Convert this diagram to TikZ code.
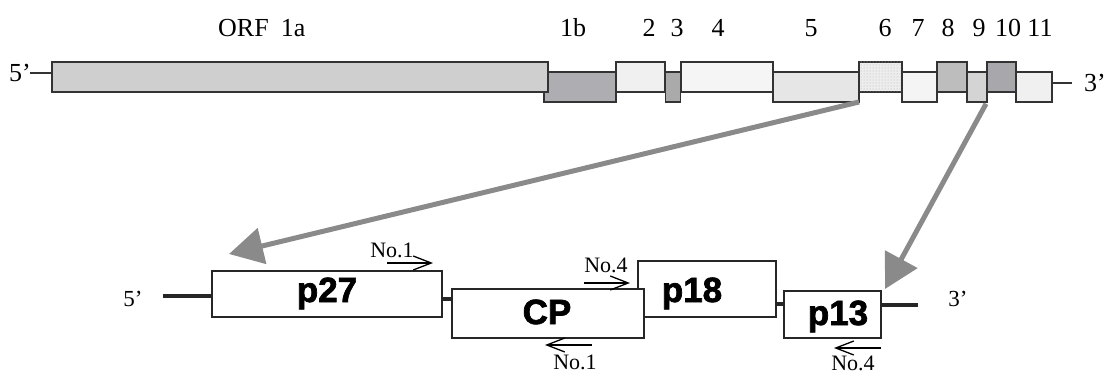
\documentclass[tikz,border=0pt]{standalone}
\usepackage{fontspec}
\setmainfont{Liberation Serif}
\newfontfamily\heavy{Liberation Sans}[BoldFeatures={FakeBold=2}]
\usetikzlibrary{arrows.meta,patterns}
\definecolor{edge}{HTML}{333333}
\definecolor{arrowgray}{HTML}{8A8A8A}
\definecolor{c1a}{HTML}{CFCFCF}
\definecolor{c1b}{HTML}{AEAEB2}
\definecolor{c2}{HTML}{F0F0F0}
\definecolor{c3}{HTML}{AAAAAA}
\definecolor{c4}{HTML}{F5F5F5}
\definecolor{c5}{HTML}{E6E6E6}
\definecolor{c6}{HTML}{EDEDED}
\definecolor{c7}{HTML}{F4F4F4}
\definecolor{c8}{HTML}{BDBDBD}
\definecolor{c9}{HTML}{D4D4D4}
\definecolor{c10}{HTML}{A8A8AC}
\definecolor{c11}{HTML}{F0F0F0}
\begin{document}
\begin{tikzpicture}[x=1pt,y=-1pt,
  gb/.style={draw=edge,line width=1.8pt,inner sep=0pt,outer sep=0pt,anchor=north west,minimum height=30pt},
  wb/.style={draw=black!85,line width=1.6pt,fill=white,inner sep=0pt,outer sep=0pt,anchor=north west},
  lbl/.style={inner sep=0pt,anchor=base,font=\fontsize{26}{26}\selectfont},
  endlbl/.style={inner sep=0pt,anchor=base,font=\fontsize{23}{23}\selectfont},
  prot/.style={inner sep=0pt,anchor=base,font=\heavy\bfseries\fontsize{35}{35}\selectfont},
  prlbl/.style={inner sep=0pt,anchor=base,font=\fontsize{22}{22}\selectfont},
  primer/.style={line width=1.3pt,-{Straight Barb[length=18pt,width=14pt]}},
  big/.style={draw=arrowgray,line width=5pt,-{Triangle[length=34pt,width=36pt]}},
  dna/.style={line width=4pt,black!85},
]
\useasboundingbox (0,0) rectangle (1110,374);

% ---- top genome ----
\node[lbl] (l5t) at (20,81.5) {5’};
\node[lbl,anchor=base west] (orf) at (218,37) {ORF\hspace{12pt}1a};
\node[lbl] (n1b) at (573,37) {1b};
\node[lbl] (n2) at (649,37) {2};
\node[lbl] (n3) at (677,37) {3};
\node[lbl] (n4) at (718,37) {4};
\node[lbl] (n5) at (811,37) {5};
\node[lbl] (n6) at (885,37) {6};
\node[lbl] (n7) at (918,37) {7};
\node[lbl] (n8) at (948,37) {8};
\node[lbl] (n9) at (979,37) {9};
\node[lbl] (n10) at (1008,37) {10};
\node[lbl] (n11) at (1040,37) {11};
\node[lbl] (l3t) at (1095,91.5) {3’};

\node[gb,fill=c1b,minimum width=72pt] (b1b) at (544,72) {};
\node[gb,fill=c1a,minimum width=496pt] (b1a) at (52,62) {};
\node[gb,fill=c2,minimum width=49pt] (b2) at (616,62) {};
\node[gb,fill=c3,minimum width=15pt] (b3) at (665.5,72) {};
\node[gb,fill=c4,minimum width=92pt] (b4) at (681,62) {};
\node[gb,fill=c5,minimum width=86pt] (b5) at (773,72) {};
\node[gb,fill=c6,minimum width=43pt,postaction={pattern=dots,pattern color=black!30}] (b6) at (859,62) {};
\node[gb,fill=c7,minimum width=35pt] (b7) at (902,72) {};
\node[gb,fill=c8,minimum width=30pt] (b8) at (937,62) {};
\node[gb,fill=c9,minimum width=20pt] (b9) at (967,72) {};
\node[gb,fill=c10,minimum width=29pt] (b10) at (987,62) {};
\node[gb,fill=c11,minimum width=36pt] (b11) at (1016,72) {};

\coordinate (s5t) at (30,73);
\draw[line width=2.2pt,edge] (s5t) -- (s5t -| b1a.west);
\coordinate (e3t) at (1072,83);
\draw[line width=2.2pt,edge] (e3t -| b11.east) -- (e3t);

% ---- bottom ----
\coordinate (s5b) at (163,296);
\coordinate (j1) at (447,299);
\coordinate (j2) at (780,304);
\coordinate (e3b) at (918,305);

\node[wb,minimum width=230pt,minimum height=46pt] (p27) at (212,271) {};
\node[wb,minimum width=138pt,minimum height=56pt] (p18) at (638,261) {};
\node[wb,minimum width=192pt,minimum height=49pt] (cp) at (452,289) {};
\node[wb,minimum width=97pt,minimum height=47pt] (p13) at (784,291) {};

\draw[dna] (s5b) -- (s5b -| p27.west);
\draw[dna] (j1 -| p27.east) -- (j1 -| cp.west);
\draw[dna] (j2 -| p18.east) -- (j2 -| p13.west);
\draw[dna] (e3b -| p13.east) -- (e3b);

\node[prot] (t27) at (327,302) {p27};
\node[prot] (tcp) at (547,324) {CP};
\node[prot] (t18) at (692,302) {p18};
\node[prot] (t13) at (838,325) {p13};

\node[endlbl] (l5b) at (133,306) {5’};
\node[endlbl] (l3b) at (958,306) {3’};

% primers
\node[prlbl] (pa) at (392,257) {No.1};
\node[prlbl] (pb) at (606,272) {No.4};
\node[prlbl] (pc) at (575,369) {No.1};
\node[prlbl] (pd) at (853,370) {No.4};
\coordinate (pa1) at (387,263); \coordinate (pa2) at (433,263);
\coordinate (pb1) at (584,283); \coordinate (pb2) at (630,283);
\coordinate (pc1) at (592,345); \coordinate (pc2) at (545,345);
\coordinate (pd1) at (881,348); \coordinate (pd2) at (834,348);
\draw[primer] (pa1) -- (pa2);
\draw[primer] (pb1) -- (pb2);
\draw[primer] (pc1) -- (pc2);
\draw[primer] (pd1) -- (pd2);

% big arrows
\coordinate (tipA) at (229,254);
\coordinate (tipB) at (885,289);
\draw[big] (b5.south east) -- (tipA);
\draw[big,shorten <=2pt] (b9.south east) -- (tipB);
\end{tikzpicture}
\end{document}
